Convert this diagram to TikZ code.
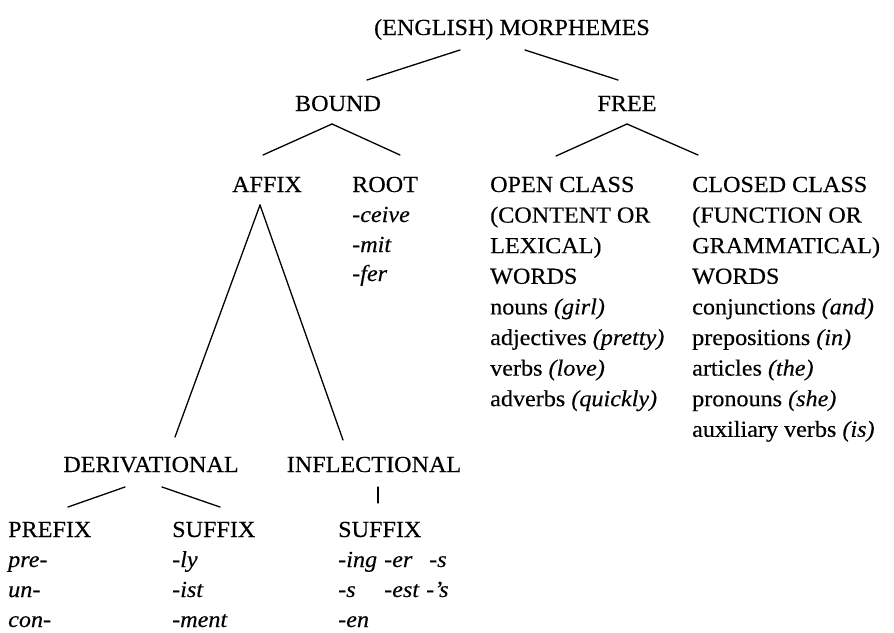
\documentclass[tikz,border=0pt]{standalone}
\usepackage{fontspec}
\setmainfont{Liberation Serif}[FakeStretch=1.05, FakeBold=0.3]
\begin{document}
\begin{tikzpicture}[x=1pt,y=-1pt,
  every node/.style={inner sep=0pt, font=\fontsize{23}{27}\selectfont},
  lt/.style={anchor=base west},
  ct/.style={anchor=base},
  branch/.style={line width=1.3pt, line cap=round}]
\useasboundingbox (0,0) rectangle (894,632);
% top levels
\node[ct] (top) at (512,35) {(ENGLISH) MORPHEMES};
\node[ct] (bound) at (338,111) {BOUND};
\node[ct] (free) at (627,111) {FREE};
\node[ct] (affix) at (267,192) {AFFIX};
% root column
\node[lt] (root) at (352,192) {ROOT};
\node[lt] (r1) at (352,222) {\textit{-ceive}};
\node[lt] (r2) at (352,252) {\textit{-mit}};
\node[lt] (r3) at (352,281) {\textit{-fer}};
% open class
\node[lt] (o0) at (490,192.0) {OPEN CLASS};
\node[lt] (o1) at (490,222.6) {(CONTENT OR};
\node[lt] (o2) at (490,253.2) {LEXICAL)};
\node[lt] (o3) at (490,283.8) {WORDS};
\node[lt] (o4) at (490,314.4) {nouns \textit{(girl)}};
\node[lt] (o5) at (490,345.0) {adjectives \textit{(pretty)}};
\node[lt] (o6) at (490,375.6) {verbs \textit{(love)}};
\node[lt] (o7) at (490,406.2) {adverbs \textit{(quickly)}};
% closed class
\node[lt] (c0) at (692,192.0) {CLOSED CLASS};
\node[lt] (c1) at (692,222.6) {(FUNCTION OR};
\node[lt] (c2) at (692,253.2) {GRAMMATICAL)};
\node[lt] (c3) at (692,283.8) {WORDS};
\node[lt] (c4) at (692,314.4) {conjunctions \textit{(and)}};
\node[lt] (c5) at (692,345.0) {prepositions \textit{(in)}};
\node[lt] (c6) at (692,375.6) {articles \textit{(the)}};
\node[lt] (c7) at (692,406.2) {pronouns \textit{(she)}};
\node[lt] (c8) at (692,436.8) {auxiliary verbs \textit{(is)}};
% derivational / inflectional
\node[ct] (deriv) at (151,472) {DERIVATIONAL};
\node[ct] (infl) at (374,472) {INFLECTIONAL};
% prefix
\node[lt] (pre) at (8,537) {PREFIX};
\node[lt] (p1) at (8,567) {\textit{pre-}};
\node[lt] (p2) at (8,597) {\textit{un-}};
\node[lt] (p3) at (8,627) {\textit{con-}};
% derivational suffix
\node[lt] (dsuf) at (172,537) {SUFFIX};
\node[lt] (d1) at (172,567) {\textit{-ly}};
\node[lt] (d2) at (172,597) {\textit{-ist}};
\node[lt] (d3) at (172,627) {\textit{-ment}};
% inflectional suffix
\node[lt] (isuf) at (338,537) {SUFFIX};
\node[lt] (i1) at (338,567) {\textit{-ing}};
\node[lt] (i2) at (384,567) {\textit{-er}};
\node[lt] (i3) at (429,567) {\textit{-s}};
\node[lt] (i4) at (338,597) {\textit{-s}};
\node[lt] (i5) at (384,597) {\textit{-est}};
\node[lt] (i6) at (426,597) {\textit{-’s}};
\node[lt] (i7) at (338,627) {\textit{-en}};
% branch end points
\coordinate (topL) at (460,50);
\coordinate (topR) at (525,50);
\coordinate (boundT) at (367,80);
\coordinate (freeT) at (618,80);
\coordinate (boundB) at (332,124);
\coordinate (affixT) at (263,155);
\coordinate (rootT) at (400,155);
\coordinate (freeB) at (627,124);
\coordinate (openT) at (556,156);
\coordinate (closedT) at (698,155);
\coordinate (affixB) at (260,205);
\coordinate (derivT) at (175,437);
\coordinate (inflT) at (343,440);
\coordinate (derivBL) at (125,487);
\coordinate (derivBR) at (162,487);
\coordinate (preT) at (68,507);
\coordinate (dsufT) at (220,507);
\coordinate (inflB) at (378,487);
\coordinate (isufT) at (378,503);
% branches
\draw[branch] (topL) -- (boundT);
\draw[branch] (topR) -- (freeT);
\draw[branch] (boundB) -- (affixT);
\draw[branch] (boundB) -- (rootT);
\draw[branch] (freeB) -- (openT);
\draw[branch] (freeB) -- (closedT);
\draw[branch] (affixB) -- (derivT);
\draw[branch] (affixB) -- (inflT);
\draw[branch] (derivBL) -- (preT);
\draw[branch] (derivBR) -- (dsufT);
\draw[branch] (inflB) -- (isufT);
\end{tikzpicture}
\end{document}
